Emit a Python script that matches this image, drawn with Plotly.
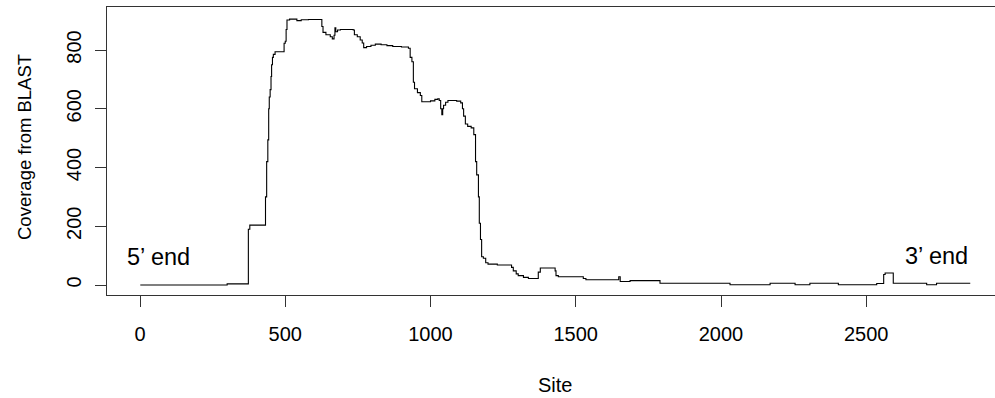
import plotly.graph_objects as go

# Step breakpoints of BLAST coverage (value holds from this site to the next)
sites = [1, 300, 373, 378, 432, 436, 440, 443, 445, 448, 451, 453, 456, 459, 465,
         496, 500, 503, 506, 515, 540, 555, 580, 626, 630, 640, 655, 662, 668, 671,
         674, 680, 690, 734, 738, 748, 758, 765, 770, 780, 795, 810, 830, 850, 870,
         900, 924, 930, 936, 941, 945, 955, 965, 970, 1000, 1015, 1025, 1030, 1035,
         1039, 1042, 1045, 1052, 1060, 1090, 1104, 1110, 1114, 1120, 1128, 1140,
         1149, 1155, 1159, 1165, 1168, 1172, 1176, 1182, 1190, 1198, 1230, 1279,
         1285, 1295, 1302, 1320, 1337, 1371, 1378, 1429, 1432, 1440, 1526, 1535,
         1641, 1648, 1653, 1687, 1790, 2031, 2169, 2255, 2306, 2404, 2536, 2560,
         2565, 2593, 2708, 2742, 2858]
coverage = [0, 4, 190, 204, 300, 420, 494, 600, 640, 665, 710, 750, 775, 785, 794,
            823, 830, 870, 902, 905, 900, 903, 904, 880, 860, 852, 845, 838, 850, 876,
            862, 868, 870, 868, 852, 845, 834, 824, 808, 812, 816, 820, 818, 815, 812,
            810, 806, 775, 760, 690, 668, 655, 645, 624, 627, 632, 634, 628, 600,
            580, 600, 612, 622, 628, 626, 620, 600, 575, 548, 540, 535,
            512, 420, 375, 300, 210, 155, 96, 91, 76, 71, 68, 60,
            48, 38, 32, 26, 22, 44, 58, 48, 32, 28, 22, 18,
            18, 28, 12, 15, 6, 1, 6, 1, 6, 1, 5, 36,
            41, 6, 1, 6, 6]

x_ticks = [0, 500, 1000, 1500, 2000, 2500]
y_ticks = [0, 200, 400, 600, 800]
x_title = "Site"
y_title = "Coverage from BLAST"
end_labels = ["5\u2019 end", "3\u2019 end"]
end_label_sites = [64, 2742]
end_label_values = [96, 99]

FONT = "Arial, Liberation Sans, sans-serif"

# The plotting frame extends slightly past the right edge of the 995px view
FIG_W = 1010
L, R = 107, 1
PLOT_W = FIG_W - L - R

fig = go.Figure()
fig.add_trace(go.Scatter(x=sites, y=coverage, mode="lines", line_shape="hv",
                         line=dict(color="black", width=1.1), hoverinfo="skip",
                         showlegend=False))

for t, xs, yv in zip(end_labels, end_label_sites, end_label_values):
    fig.add_annotation(x=xs, y=yv, xref="x", yref="y", text=t, showarrow=False,
                       xanchor="center", yanchor="middle",
                       font=dict(family=FONT, size=23.5, color="black"))

fig.add_annotation(x=(555 - L) / PLOT_W, y=(295 - 385) / 288, xref="paper", yref="paper",
                   text=x_title, showarrow=False, xanchor="center", yanchor="middle",
                   font=dict(family=FONT, size=20, color="black"))
fig.add_annotation(x=(24 - L) / PLOT_W, y=(295 - 147) / 288, xref="paper", yref="paper",
                   text=y_title, showarrow=False, textangle=-90,
                   xanchor="center", yanchor="middle",
                   font=dict(family=FONT, size=18.5, color="black"))

fig.update_layout(
    width=FIG_W, height=398,
    margin=dict(l=L, r=R, t=7, b=103),
    plot_bgcolor="white", paper_bgcolor="white",
    font=dict(family=FONT, size=20, color="black"),
    xaxis=dict(range=[-113.6, -113.6 + PLOT_W / 0.2905], tickvals=x_ticks,
               ticks="outside", ticklen=11,
               tickcolor="#333", tickwidth=1, showgrid=False, zeroline=False,
               showline=True, mirror=True, linecolor="#333", linewidth=1.2,
               tickfont=dict(family=FONT, size=20, color="black"),
               ticklabelstandoff=10),
    yaxis=dict(range=[-34.0, 946.4], tickvals=y_ticks, ticks="outside", ticklen=11,
               tickcolor="#333", tickwidth=1, showgrid=False, zeroline=False,
               showline=True, mirror=True, linecolor="#333", linewidth=1.2,
               tickangle=-90,
               tickfont=dict(family=FONT, size=20, color="black"),
               ticklabelstandoff=6),
)

fig.write_html("out.html", config={"displayModeBar": False, "staticPlot": True},
               post_script="document.body.style.margin='0';"
                           "document.body.style.overflow='hidden';")
